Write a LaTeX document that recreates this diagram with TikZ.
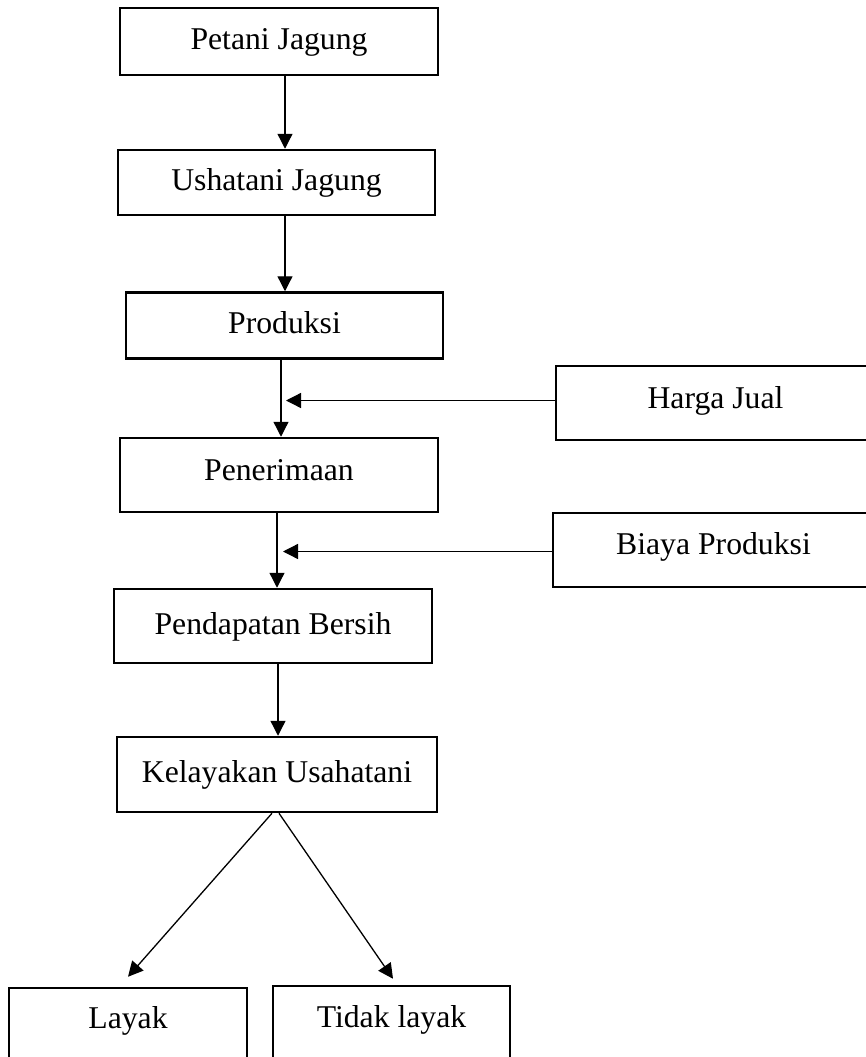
\documentclass[tikz,border=0pt]{standalone}
\usepackage{fontspec}
\setmainfont{Liberation Serif}
\usetikzlibrary{arrows.meta}
\begin{document}
\begin{tikzpicture}[x=1pt,y=-1pt,
  box/.style={draw=black, line width=2.5pt, rectangle, inner sep=0pt,
    font=\fontsize{31.7}{38}\selectfont, text height=22pt, text depth=7pt},
  arr/.style={draw=black, line width=1.3pt, -{Triangle[length=15pt,width=15pt]}}]
\useasboundingbox (0,0) rectangle (866,1057);
\clip (0,0) rectangle (866,1057);
\node[box, minimum width=318pt, minimum height=67pt] (pet) at (279,41.5) {Petani Jagung};
\node[box, minimum width=317pt, minimum height=65pt] (ush) at (276.5,182.5) {Ushatani Jagung};
\node[box, minimum width=317pt, minimum height=66pt] (prod) at (284.5,325.5) {Produksi};
\node[box, minimum width=318pt, minimum height=74pt, text depth=12pt] (pen) at (279,475) {Penerimaan};
\node[box, minimum width=318pt, minimum height=74pt, text depth=5pt] (pend) at (273,626) {Pendapatan Bersih};
\node[box, minimum width=320pt, minimum height=75pt] (kel) at (277,774.5) {Kelayakan Usahatani};
\node[box, minimum width=319pt, minimum height=74pt, text depth=12pt] (har) at (715.5,403) {Harga Jual};
\node[box, minimum width=321pt, minimum height=74pt, text depth=14pt] (bia) at (713.5,550) {Biaya Produksi};
\node[box, minimum width=238pt, minimum height=74pt, text depth=16pt] (lay) at (128,1025) {Layak};
\node[box, minimum width=237pt, minimum height=74pt, text depth=14pt] (tid) at (391.5,1023) {Tidak layak};
\coordinate (h1) at (286,400.5);
\coordinate (h2) at (283,551.5);
\draw[arr] ([xshift=6pt]pet.south) -- ([xshift=8.5pt]ush.north);
\draw[arr] ([xshift=8.5pt]ush.south) -- ([xshift=0.5pt]prod.north);
\draw[arr] ([xshift=-3.5pt]prod.south) -- ([xshift=2pt]pen.north);
\draw[arr] ([xshift=-2pt]pen.south) -- ([xshift=4pt]pend.north);
\draw[arr] ([xshift=5pt]pend.south) -- ([xshift=1pt]kel.north);
\draw[arr] ([yshift=2.5pt]har.west) -- (h1);
\draw[arr] ([yshift=-1.5pt]bia.west) -- (h2);
\draw[arr] ([xshift=-5pt]kel.south) -- ([yshift=10pt]lay.north);
\draw[arr] ([xshift=2pt]kel.south) -- ([xshift=1.5pt,yshift=6pt]tid.north);
\end{tikzpicture}
\end{document}
